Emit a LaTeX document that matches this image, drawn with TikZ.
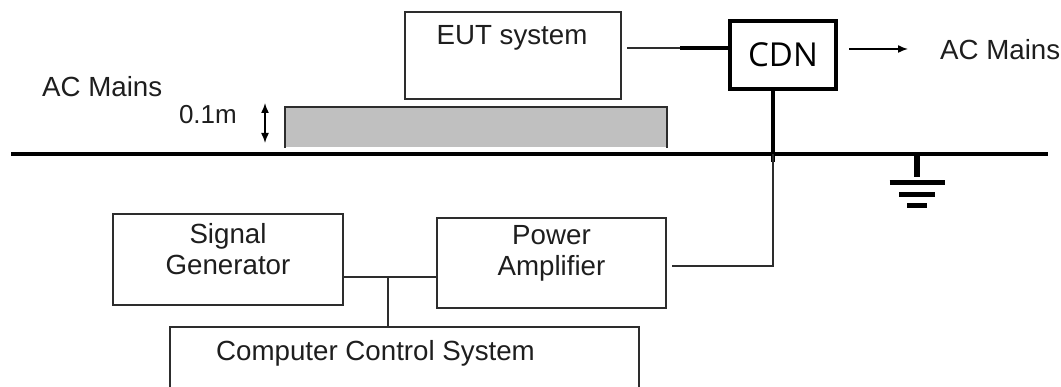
\documentclass[tikz,border=0pt]{standalone}
\usepackage{fontspec}
\setmainfont{Liberation Sans}
\newfontfamily\cdnfont{Open Sans}
\usetikzlibrary{shapes,arrows,arrows.meta,positioning,calc}
\definecolor{edgegray}{RGB}{45,45,45}
\definecolor{tablegray}{RGB}{192,192,192}
\definecolor{txtgray}{RGB}{30,30,30}
\tikzstyle{box} = [draw=edgegray, line width=2pt, rectangle, inner sep=0pt]
\tikzstyle{wire} = [draw=edgegray, line width=2pt]
\tikzstyle{thickwire} = [draw=black, line width=4pt]
\tikzstyle{line} = [draw=black, line width=1.5pt, -{Latex[length=10pt, width=8pt]}]
\tikzstyle{lbl} = [inner sep=0pt, text=txtgray, font=\fontsize{27.7}{31}\selectfont]

\begin{document}
\begin{tikzpicture}[x=1pt, y=-1pt]
    \useasboundingbox (0,0) rectangle (1061,387);
    \clip (0,0) rectangle (1061,387);
    % table and ground plane
    \fill [tablegray] (285,107) rectangle (667,147);
    \draw [wire] (285,148) -- (285,107) -- (667,107) -- (667,148);
    \coordinate (gl) at (11,154);
    \coordinate (gr) at (1048,154);
    \draw [black, line width=4pt] (gl) -- (gr);

    % boxes
    \node [box, minimum width=216pt, minimum height=87pt] (eut) at (513,55.5) {};
    \node [lbl, anchor=base] (eutlbl) at (512,45) {EUT system};
    \node [box, draw=black, line width=4pt, minimum width=106pt, minimum height=68pt,
           font=\cdnfont\fontsize{33}{36}\selectfont] (cdn) at (783,55) {CDN};
    \node [lbl, anchor=base west] (acr) at (940,60) {AC Mains};
    \node [lbl, anchor=base west] (acl) at (42,97) {AC Mains};
    \node [lbl, anchor=base east, font=\fontsize{26}{30}\selectfont] (gap) at (237,124) {0.1m};
    \node [box, minimum width=230pt, minimum height=91pt] (sg) at (228,259.5) {};
    \node [lbl, align=center, anchor=north] (sglbl) at ($(sg.north)+(0,10)$) {Signal\\Generator};
    \node [box, minimum width=229pt, minimum height=90pt] (pa) at (551.5,263) {};
    \node [lbl, align=center, anchor=north] (palbl) at ($(pa.north)+(0,8)$) {Power\\Amplifier};
    \node [box, minimum width=469pt, minimum height=100pt, anchor=north west] (ccs) at (169,326) {};
    \node [lbl, anchor=base west] (ccslbl) at (216,361) {Computer Control System};

    % connections
    \coordinate (eutj) at (680,48);
    \draw [wire, shorten <=5pt] (eut.east |- eutj) -- (eutj);
    \draw [thickwire] (eutj) -- (cdn.west |- eutj);
    \coordinate (acend) at (908,49);
    \path [line, shorten <=11pt] (cdn.east |- acend) -- (acend);
    \coordinate (dtop) at (265,103);
    \coordinate (dbot) at (265,143);
    \draw [black, line width=1.5pt, {Latex[length=10pt, width=8pt]}-{Latex[length=10pt, width=8pt]}] (dtop) -- (dbot);
    \coordinate (cdnj) at (773,154);
    \coordinate (paj) at (773,266);
    \draw [thickwire] (cdn.south -| cdnj) -- ($(cdnj)+(0,8)$);
    \draw [wire, shorten >=5pt] (cdnj) -- (paj) -- (pa.east |- paj);
    \coordinate (sgj) at (388,277);
    \draw [wire] (sg.east |- sgj) -- (pa.west |- sgj);
    \draw [wire] (sgj) -- (ccs.north -| sgj);

    % ground symbol
    \coordinate (gnd) at (917,154);
    \draw [black, line width=6pt] (gnd) -- ++(0,23);
    \foreach \dy/\hw in {28.5/27.5, 40.5/18, 52/10}
        \draw [black, line width=5pt] ($(gnd)+(-\hw,\dy)$) -- ($(gnd)+(\hw,\dy)$);
\end{tikzpicture}
\end{document}
